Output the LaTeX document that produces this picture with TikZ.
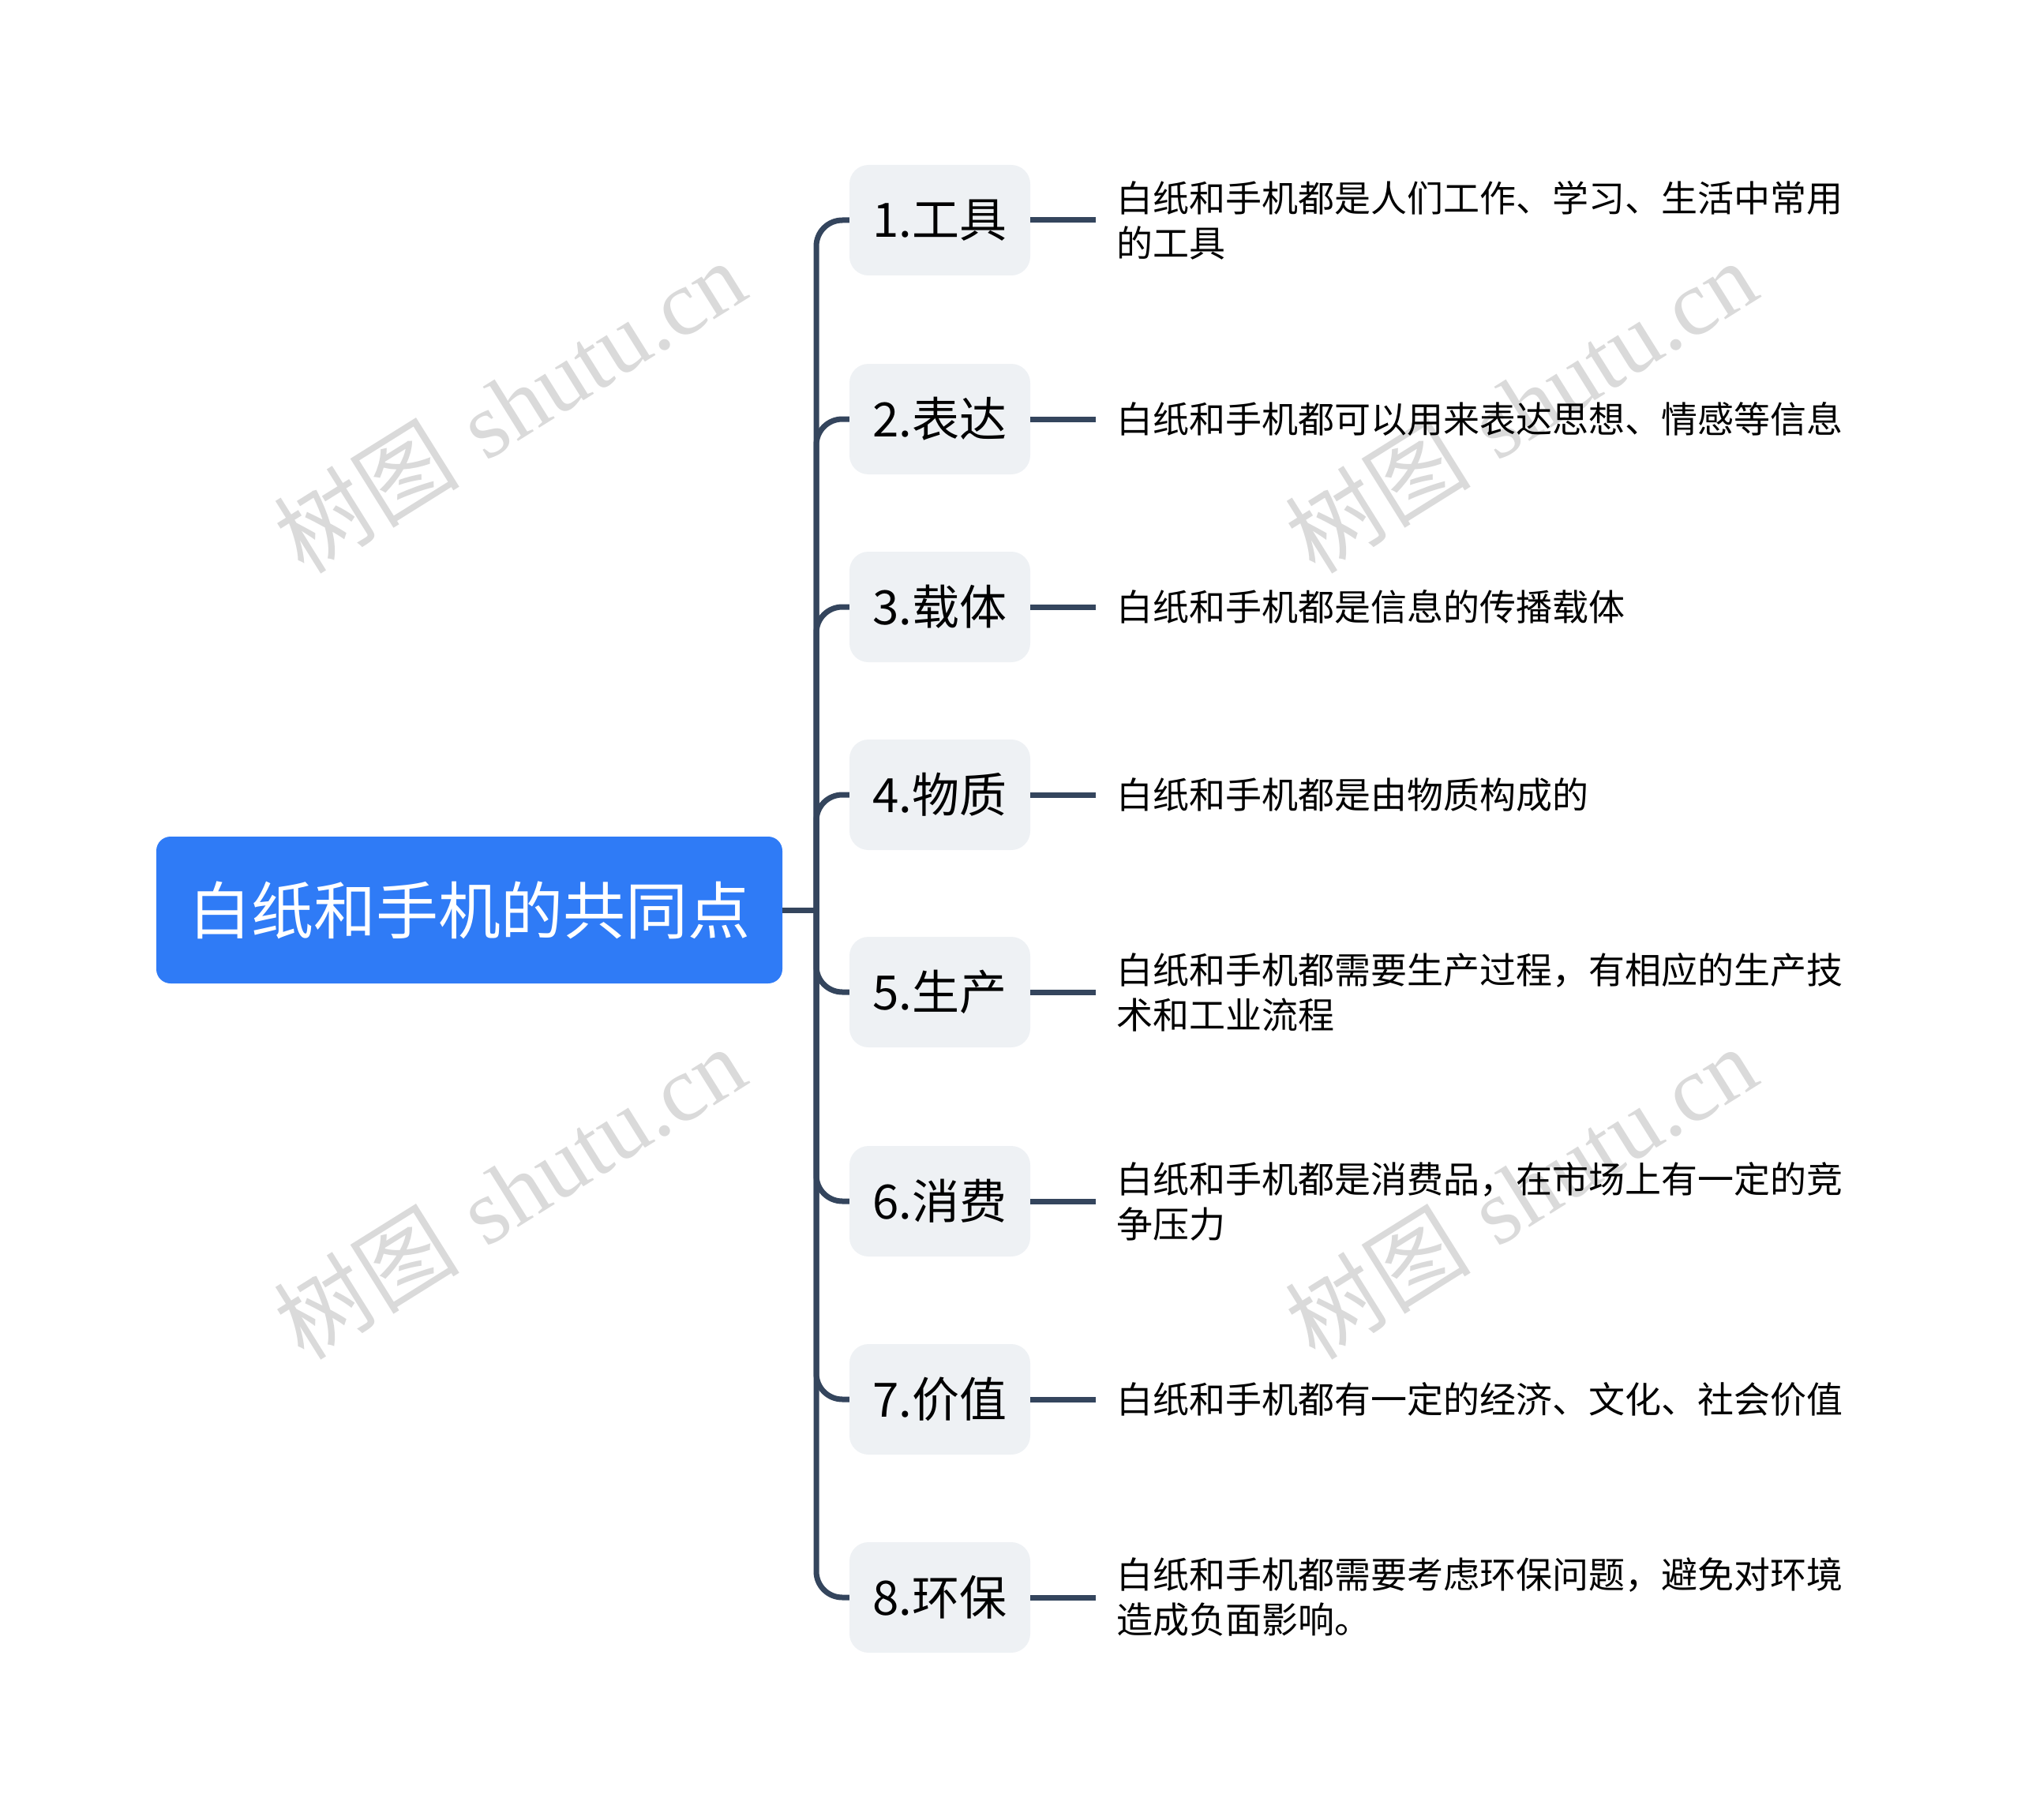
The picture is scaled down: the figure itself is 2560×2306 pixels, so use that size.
\documentclass[tikz,border=0pt]{standalone}
\usepackage{fontspec}
\newfontfamily\cjk{Noto Sans CJK SC}
\newfontfamily\wmserif{Liberation Serif}
\definecolor{rootblue}{RGB}{47,123,246}
\definecolor{branchfill}{RGB}{238,241,244}
\definecolor{linec}{RGB}{52,69,93}
\definecolor{wmgray}{RGB}{218,218,218}
\tikzset{
  rootbox/.style={fill=rootblue, rounded corners=18pt, minimum width=793pt, minimum height=186pt, inner sep=0pt,
    font=\cjk\fontsize{79}{90}\selectfont, text=white},
  branchbox/.style={fill=branchfill, rounded corners=24pt, minimum width=229pt, minimum height=140pt, inner sep=0pt,
    font=\cjk\fontsize{60}{70}\selectfont, text=black},
  leaftext/.style={anchor=west, inner xsep=26pt, inner ysep=0pt, align=left,
    font=\cjk\fontsize{46}{57}\selectfont, text=black},
  conn/.style={draw=linec, line width=7pt},
  wm/.style={text=wmgray, rotate=32, font=\fontsize{118}{124}\selectfont}
}
\begin{document}
\begin{tikzpicture}[x=1pt,y=-1pt]
\useasboundingbox (0,0) rectangle (2560,2306);
% watermarks
\node[wm] (wm1) at (645,514) {{\cjk 树图} {\wmserif shutu.cn}};
\node[wm] (wm2) at (1926,514) {{\cjk 树图} {\wmserif shutu.cn}};
\node[wm] (wm3) at (645,1510) {{\cjk 树图} {\wmserif shutu.cn}};
\node[wm] (wm4) at (1926,1510) {{\cjk 树图} {\wmserif shutu.cn}};
% root
\node[rootbox] (root) at (594.5,1153) {白纸和手机的共同点};
\coordinate (J) at (1034,1153);
% branches
\node[branchbox] (b1) at (1190.5,279) {1.工具};
\node[branchbox] (b2) at (1190.5,531) {2.表达};
\node[branchbox] (b3) at (1190.5,769) {3.载体};
\node[branchbox] (b4) at (1190.5,1007) {4.物质};
\node[branchbox] (b5) at (1190.5,1257) {5.生产};
\node[branchbox] (b6) at (1190.5,1522) {6.消费};
\node[branchbox] (b7) at (1190.5,1773) {7.价值};
\node[branchbox] (b8) at (1190.5,2024) {8.环保};
% leaves
\node[leaftext] (l1) at (1388,279) {白纸和手机都是人们工作、学习、生活中常用\\的工具};
\node[leaftext] (l2) at (1388,531) {白纸和手机都可以用来表达思想、情感等信息};
\node[leaftext] (l3) at (1388,769) {白纸和手机都是信息的传播载体};
\node[leaftext] (l4) at (1388,1007) {白纸和手机都是由物质构成的};
\node[leaftext] (l5) at (1388,1257) {白纸和手机都需要生产过程，有相应的生产技\\术和工业流程};
\node[leaftext] (l6) at (1388,1522) {白纸和手机都是消费品，在市场上有一定的竞\\争压力};
\node[leaftext] (l7) at (1388,1773) {白纸和手机都有一定的经济、文化、社会价值};
\node[leaftext] (l8) at (1388,2024) {白纸和手机都需要考虑环保问题，避免对环境\\造成负面影响。};
% connectors
\draw[conn] (root.east) -- (J);
\foreach \i in {1,...,8} {
  \draw[conn, rounded corners=33pt] (J) |- (b\i.west);
  \draw[conn] (b\i.east) -- (l\i.west);
}
\end{tikzpicture}
\end{document}
